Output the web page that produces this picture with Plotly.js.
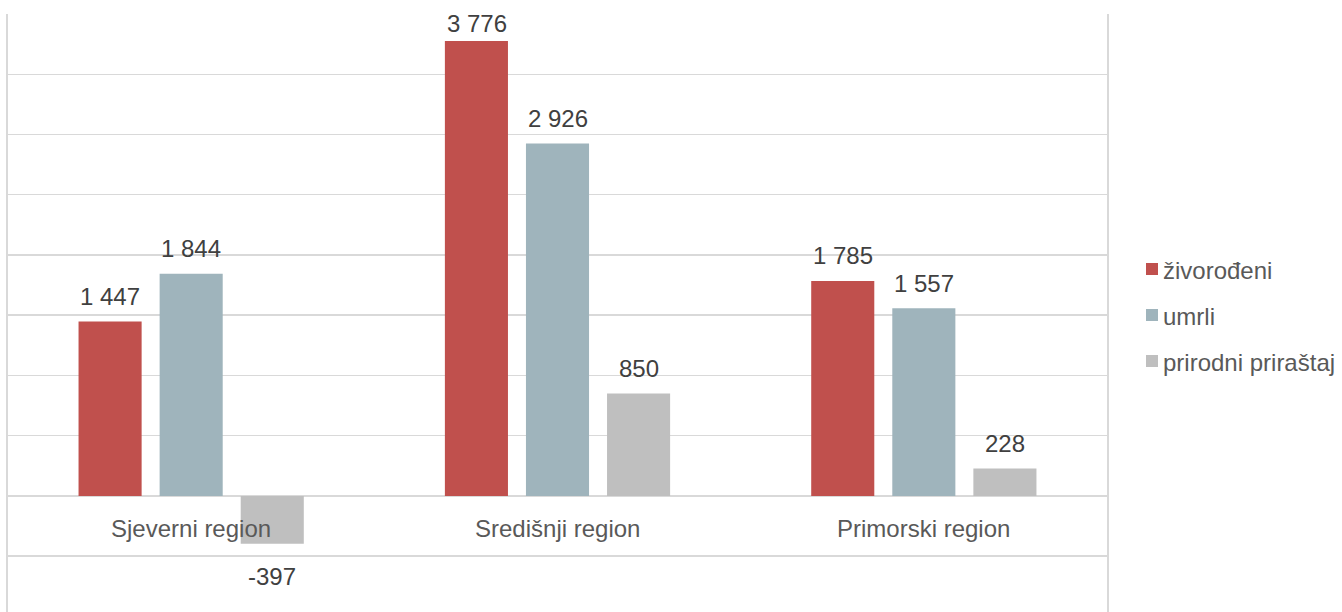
<!DOCTYPE html>
<html>
<head>
<meta charset="utf-8">
<script src="https://cdn.plot.ly/plotly-3.0.1.min.js"></script>
<style>html,body{margin:0;padding:0;background:#fff;}#chart{width:1342px;height:612px;}</style>
</head>
<body>
<div id="chart"></div>
<script>
const categories = ["Sjeverni region", "Središnji region", "Primorski region"];
const seriesNames = ["živorođeni", "umrli", "prirodni priraštaj"];
const zivorodeni = [1447, 3776, 1785];
const umrli = [1844, 2926, 1557];
const prirast = [-397, 850, 228];
const colors = ["#C0504D", "#9FB4BC", "#BFBFBF"];

function fmt(v) {
  const s = Math.abs(v).toString().replace(/\B(?=(\d{3})+(?!\d))/g, " ");
  return (v < 0 ? "-" : "") + s;
}

const font = "Liberation Sans, Arial, sans-serif";
const W = 1342, H = 612;
const M = {l: 8, r: 235, t: 14, b: 0};
const yRange = [-963, 4000];
const plotH = H - M.t - M.b, plotW = W - M.l - M.r;
const pxPerUnit = plotH / (yRange[1] - yRange[0]);

const series = [zivorodeni, umrli, prirast];
const data = series.map((vals, i) => ({
  type: "bar",
  name: seriesNames[i],
  x: categories,
  y: vals,
  marker: {color: colors[i]},
  showlegend: false,
  hoverinfo: "none"
}));

const annotations = [];
// category labels just under the zero line (drawn above the bars, as in the original)
categories.forEach(c => annotations.push({
  x: c, y: 0, xref: "x", yref: "y",
  text: c, showarrow: false, yanchor: "middle", yshift: -33,
  font: {family: font, size: 24, color: "#595959"}
}));
// data labels
series.forEach((vals, i) => {
  vals.forEach((v, j) => {
    const topPx = M.t + (yRange[1] - v) * pxPerUnit;
    const shift = v >= 0 ? Math.min(25, topPx - 24) : -33;
    annotations.push({
      x: categories[j], y: v, xref: "x", yref: "y",
      xshift: (i - 1) * 81, yshift: shift,
      text: fmt(v), showarrow: false, yanchor: "middle",
      font: {family: font, size: 24, color: "#404040"}
    });
  });
});
// legend (manual)
const shapes = [];
const legRows = [269, 315, 361];
seriesNames.forEach((n, i) => {
  const cy = legRows[i];
  shapes.push({
    type: "rect", xref: "paper", yref: "paper",
    x0: (1146 - M.l) / plotW, x1: (1158 - M.l) / plotW,
    y0: (H - M.b - (cy + 6)) / plotH, y1: (H - M.b - (cy - 6)) / plotH,
    fillcolor: colors[i], line: {width: 0}
  });
  annotations.push({
    xref: "paper", yref: "paper",
    x: (1161 - M.l) / plotW, y: (H - M.b - (cy + 1)) / plotH,
    xanchor: "left", yanchor: "middle", showarrow: false, text: n,
    font: {family: font, size: 24, color: "#595959"}
  });
});

const layout = {
  width: W, height: H,
  margin: {l: M.l, r: M.r, t: M.t, b: M.b, pad: 0},
  paper_bgcolor: "#fff", plot_bgcolor: "#fff",
  barmode: "group",
  bargap: 0.336,
  bargroupgap: 0.222,
  showlegend: false,
  xaxis: {showticklabels: false, showgrid: false, zeroline: false, showline: false, ticks: ""},
  yaxis: {
    range: yRange, dtick: 500, tick0: 0,
    showticklabels: false, ticks: "",
    showgrid: true, gridcolor: "#D9D9D9", gridwidth: 1.5,
    zeroline: true, zerolinecolor: "#D9D9D9", zerolinewidth: 1.5,
    showline: true, linecolor: "#D9D9D9", linewidth: 2, mirror: true
  },
  annotations: annotations,
  shapes: shapes
};

Plotly.newPlot("chart", data, layout, {displayModeBar: false, staticPlot: true});
</script>
</body>
</html>
